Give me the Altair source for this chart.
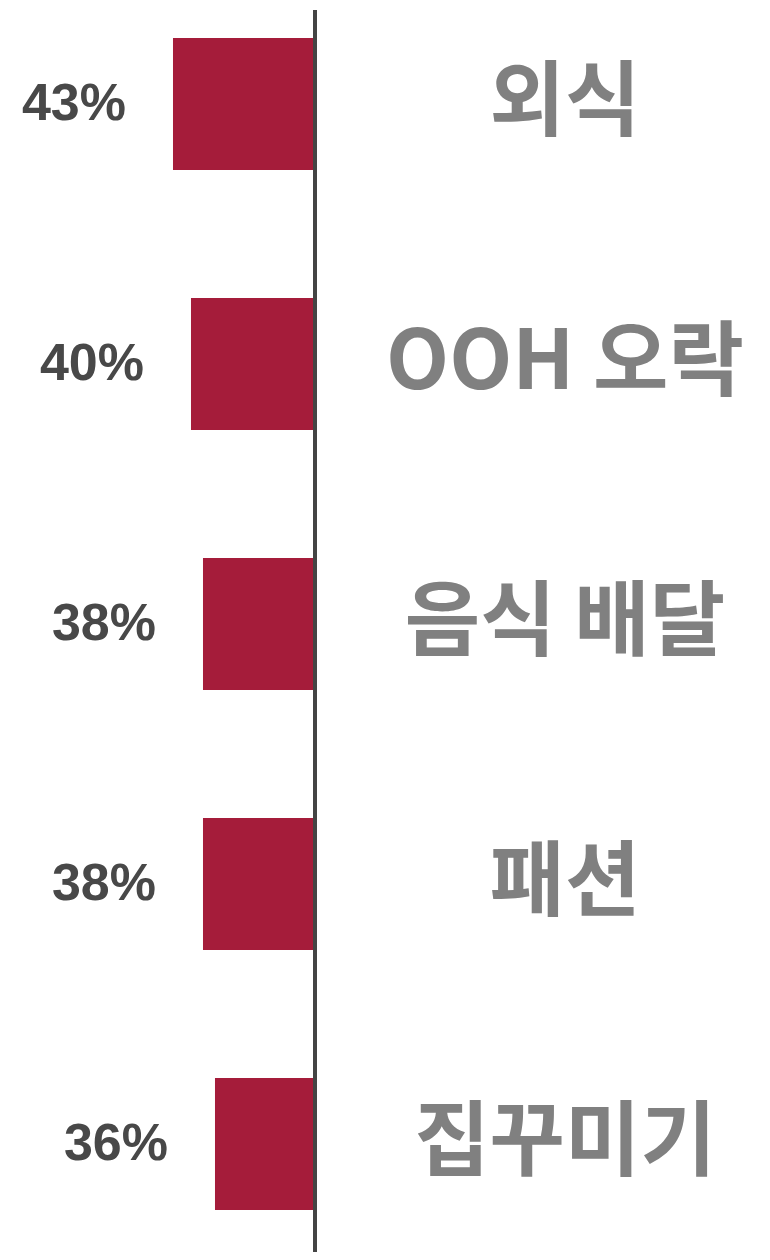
import altair as alt
import pandas as pd

categories = ["외식", "OOH 오락", "음식 배달", "패션", "집꾸미기"]
values = [43, 40, 38, 38, 36]

AXIS_MIN = 19.33
DOMAIN_MAX = 70.5

df = pd.DataFrame({"category": categories, "value": values})
df["label"] = [f"{v}%" for v in values]
df["base"] = AXIS_MIN

W, H = 754, 1244

y_enc = alt.Y(
    "category:N",
    sort=categories,
    axis=None,
    scale=alt.Scale(paddingInner=0.492, paddingOuter=0.1383, align=0.417),
)
x_scale = alt.Scale(domain=[AXIS_MIN, DOMAIN_MAX], range=[307, 0], zero=False, nice=False)

base = alt.Chart(df)

bars = base.mark_bar(color="#a51c3a").encode(
    y=y_enc,
    x=alt.X("value:Q", scale=x_scale, axis=None),
    x2="base:Q",
)

pct = base.mark_text(
    align="right", baseline="middle", dx=-47, fontSize=52, fontWeight="bold",
    font="Liberation Sans", color="#484848",
).encode(
    y=y_enc,
    x=alt.X("value:Q", scale=x_scale, axis=None),
    text="label:N",
)

cats = base.mark_text(
    align="center", baseline="middle", fontSize=82, fontWeight="bold",
    font="Noto Sans CJK KR", color="#808080",
).encode(
    y=y_enc,
    x=alt.value(557),
    text="category:N",
)

axis_line = base.mark_rule(color="#444444", strokeWidth=4).encode(
    x=alt.X("base:Q", scale=x_scale, axis=None),
    y=alt.value(2),
    y2=alt.value(H),
)

chart = (
    alt.layer(bars, axis_line, pct, cats)
    .properties(width=W, height=H, background="white", padding=0,
                autosize=alt.AutoSizeParams(type="none"))
    .configure_view(stroke=None)
)

chart.save("out.html", embed_options={"renderer": "svg", "actions": False})
